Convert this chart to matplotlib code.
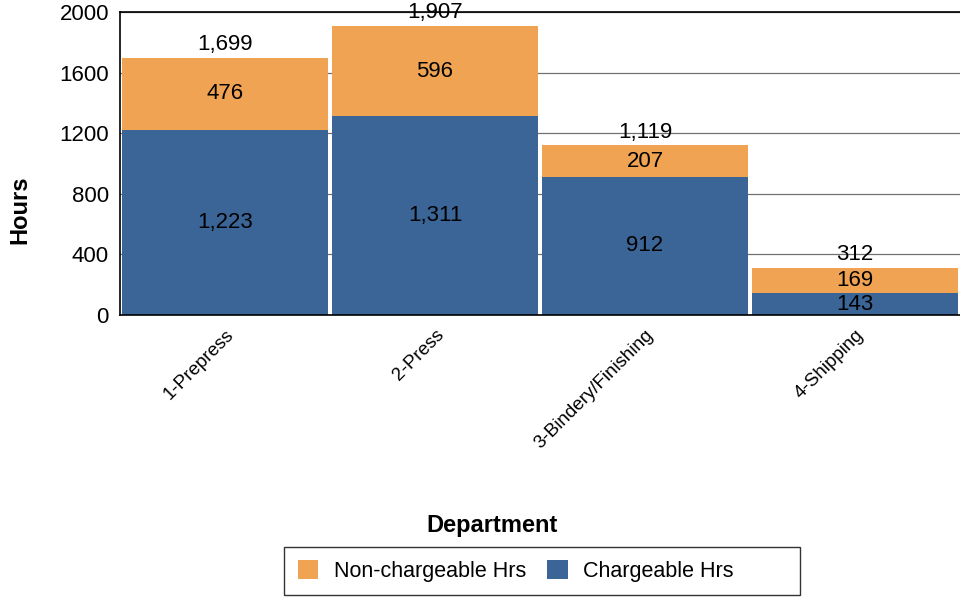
import matplotlib
matplotlib.use("Agg")
import matplotlib.pyplot as plt
from matplotlib.patches import Patch, Rectangle

plt.rcParams['font.family'] = ['Liberation Sans', 'DejaVu Sans']

departments = ["1-Prepress", "2-Press", "3-Bindery/Finishing", "4-Shipping"]
chargeable = [1223, 1311, 912, 143]
non_chargeable = [476, 596, 207, 169]
totals = [1699, 1907, 1119, 312]
yticks = [0, 400, 800, 1200, 1600, 2000]

c_orange = '#F0A453'
c_blue = '#3A6596'

fig = plt.figure(figsize=(9.6, 5.98), dpi=100)
ax = fig.add_axes([0.125, 0.4732, 0.875, 0.5067])

x = list(range(len(departments)))
w = 0.98
ax.bar(x, chargeable, width=w, color=c_blue, zorder=2)
ax.bar(x, non_chargeable, width=w, bottom=chargeable, color=c_orange, zorder=2)

fs = 16
for i in x:
    ax.text(i, chargeable[i] / 2, f"{chargeable[i]:,}", ha='center', va='center', fontsize=fs, zorder=3)
    ax.text(i, chargeable[i] + non_chargeable[i] / 2, f"{non_chargeable[i]:,}", ha='center', va='center', fontsize=fs, zorder=3)
    ax.annotate(f"{totals[i]:,}", (i, totals[i]), xytext=(0, 2), textcoords='offset points',
                ha='center', va='bottom', fontsize=fs, zorder=3, annotation_clip=False)

ax.set_xlim(-0.5, 3.5)
ax.set_ylim(0, 2000)
ax.set_yticks(yticks)
ax.set_yticklabels([str(v) for v in yticks], fontsize=fs)
ax.yaxis.grid(True, color='#707070', linewidth=0.9, zorder=0)
ax.set_axisbelow(True)
ax.tick_params(axis='y', length=0, pad=8)
ax.set_xticks(x)
ax.set_xticklabels(departments, rotation=45, ha='right', rotation_mode='anchor', fontsize=13.5)
ax.tick_params(axis='x', length=0, pad=8)

for s in ['left', 'bottom', 'top']:
    ax.spines[s].set_color('black')
    ax.spines[s].set_linewidth(1.2)
ax.spines['right'].set_visible(False)

fig.text(0.021, 0.649, "Hours", rotation=90, ha='center', va='center', fontsize=17, fontweight='bold')
fig.text(0.5125, 0.122, "Department", ha='center', va='center', fontsize=17, fontweight='bold')

# legend box
fig.patches.append(Rectangle((284 / 960, 3 / 598), 516 / 960, 48 / 598, transform=fig.transFigure,
                             facecolor='white', edgecolor='#333333', linewidth=1.0, zorder=1))
handles = [Patch(facecolor=c_orange, label="Non-chargeable Hrs"), Patch(facecolor=c_blue, label="Chargeable Hrs")]
leg = fig.legend(handles=handles, loc='center left', bbox_to_anchor=(298 / 960, 0.0452), ncol=2, fontsize=15.5,
                 frameon=False, handlelength=0.95, handleheight=0.95, borderpad=0, borderaxespad=0,
                 columnspacing=1.0, handletextpad=0.7)
leg.set_zorder(2)

fig.savefig("out.png", dpi=100)
